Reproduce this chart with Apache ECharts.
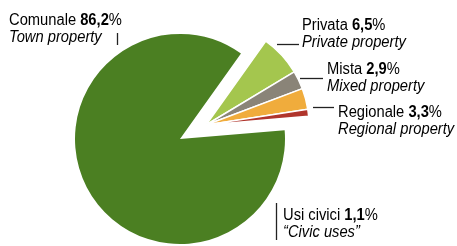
<!DOCTYPE html>
<html><head><meta charset="utf-8">
<script src="https://cdn.jsdelivr.net/npm/echarts@6/dist/echarts.min.js"></script>
<style>html,body{margin:0;padding:0;background:#fff}#c{width:457px;height:246px}</style>
</head><body><div id="c"></div>
<script>
const names = ['Comunale', 'Privata', 'Mista', 'Regionale', 'Usi civici'];
const namesEn = ['Town property', 'Private property', 'Mixed property', 'Regional property', '\u201cCivic uses\u201d'];
const values = [86.2, 6.5, 2.9, 3.3, 1.1];
const valueLabels = ['86,2', '6,5', '2,9', '3,3', '1,1'];
const colors = ['#4b7f22', '#a4c64e', '#8a8478', '#f0ac3c', '#b0352c'];

const FONT = '"Liberation Sans", Arial, sans-serif';
const chart = echarts.init(document.getElementById('c'), null, {renderer: 'canvas'});

const bigVal = values[0];
const smallSum = values.slice(1).reduce((a, b) => a + b, 0);
const start = 54.5;

const seriesBig = {
  type: 'pie', silent: true, center: [180, 139], radius: [0, 105], startAngle: start,
  label: {show: false}, labelLine: {show: false},
  itemStyle: {borderColor: '#fff', borderWidth: 0},
  data: [
    {value: smallSum, name: '_gap', itemStyle: {color: 'rgba(0,0,0,0)'}},
    {value: bigVal, name: names[0], itemStyle: {color: colors[0]}}
  ]
};
const seriesSmall = {
  type: 'pie', silent: true, center: [206, 125], radius: [0, 103], startAngle: start,
  label: {show: false}, labelLine: {show: false},
  data: names.slice(1).map((n, i) => ({
    value: values[i + 1], name: n,
    itemStyle: {color: colors[i + 1], borderColor: '#fff', borderWidth: 1.5}
  })).concat([{value: bigVal, name: '_gap2', itemStyle: {color: 'rgba(0,0,0,0)', borderWidth: 0}}])
};

const rich = {
  n: {fontFamily: FONT, fontSize: 16, color: '#222', lineHeight: 17},
  v: {fontFamily: FONT, fontSize: 16, color: '#4a8a24', fontWeight: 'bold', lineHeight: 17},
  i: {fontFamily: FONT, fontSize: 16, color: '#222', fontStyle: 'italic', lineHeight: 17}
};
function label(idx, x, y) {
  return {
    type: 'text', x: x, y: y, scaleX: 0.92, silent: true,
    style: {
      text: '{n|' + names[idx] + ' }{v|' + valueLabels[idx] + '}{n|%}\n{i|' + namesEn[idx] + '}',
      rich: rich, textVerticalAlign: 'top', textAlign: 'left'
    }
  };
}
function seg(x1, y1, x2, y2) {
  return {type: 'line', silent: true, shape: {x1: x1, y1: y1, x2: x2, y2: y2},
    style: {stroke: '#222', lineWidth: 1.3}};
}

chart.setOption({
  animation: false,
  series: [seriesBig, seriesSmall],
  graphic: [
    label(0, 9, 12),
    seg(117.5, 33, 117.5, 45),
    label(1, 302, 17),
    seg(277, 44.5, 299, 44.5),
    label(2, 327, 61),
    seg(300, 78.5, 323, 78.5),
    label(3, 338, 104),
    seg(313, 107.5, 334, 107.5),
    label(4, 283, 207),
    seg(276.5, 203, 276.5, 240)
  ]
});
</script></body></html>
